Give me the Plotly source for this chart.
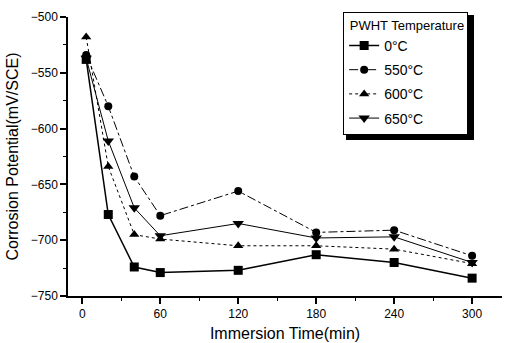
import plotly.graph_objects as go

times = [3, 20, 40, 60, 120, 180, 240, 300]
series_names = ["0°C", "550°C", "600°C", "650°C"]
v0 = [-538, -677, -724, -729, -727, -713, -720, -734]
v550 = [-534, -580, -643, -678, -656, -693, -691, -714]
v600 = [-518, -634, -695, -699, -705, -705, -708, -721]
v650 = [-537, -611, -671, -696, -685, -698, -697, -720]
x_ticks = [0, 60, 120, 180, 240, 300]
y_ticks = [-750, -700, -650, -600, -550, -500]

FONT = "Liberation Sans, Arial"

styles = [
    ("square", "solid", 9, 1.5),
    ("circle", "dashdot", 8, 1),
    ("triangle-up", "dot", 9, 1),
    ("triangle-down", "solid", 10, 1),
]
values = [v0, v550, v600, v650]

fig = go.Figure()
for name, vals, (sym, dash, size, lw) in zip(series_names, values, styles):
    fig.add_trace(go.Scatter(
        x=times, y=vals, name=name, mode="lines+markers", legendgroup=name,
        line=dict(color="black", width=lw, dash=dash),
        marker=dict(symbol=sym, size=size, color="black"),
    ))

# legend shadow
fig.add_shape(type="rect", xref="paper", yref="paper",
              x0=0.6406, x1=0.9355, y0=0.559, y1=1.007,
              fillcolor="black", line=dict(width=0), layer="below")

fig.update_layout(
    width=505, height=343,
    margin=dict(l=68, r=3, t=17, b=47),
    paper_bgcolor="white", plot_bgcolor="white",
    font=dict(family=FONT, color="black", size=12),
    showlegend=True,
    legend=dict(
        x=0.634, y=1.018, xanchor="left", yanchor="top",
        bgcolor="white", bordercolor="black", borderwidth=1,
        title=dict(text=" PWHT Temperature", font=dict(size=13, family=FONT)),
        font=dict(size=14, family=FONT),
        itemwidth=30,
        entrywidth=98,
        traceorder="grouped",
        tracegroupgap=3,
    ),
    xaxis=dict(
        range=[-11, 323], tickvals=x_ticks, ticks="outside", ticklen=6,
        tickwidth=1.5, tickcolor="black", showline=True, linecolor="black",
        linewidth=1.5, showgrid=False, zeroline=False,
        tickfont=dict(size=12, family=FONT),
        minor=dict(tickvals=[30, 90, 150, 210, 270], ticks="outside", ticklen=3, tickcolor="black", tickwidth=1),
        title=dict(text="Immersion Time(min)", font=dict(size=16, family=FONT), standoff=8),
    ),
    yaxis=dict(
        range=[-750, -500], tickvals=y_ticks, ticks="outside", ticklen=6,
        tickwidth=1.5, tickcolor="black", showline=True, linecolor="black",
        linewidth=1.5, showgrid=False, zeroline=False,
        tickfont=dict(size=12, family=FONT),
        minor=dict(tickvals=[-725, -675, -625, -575, -525], ticks="outside", ticklen=3, tickcolor="black", tickwidth=1),
        title=dict(text="Corrosion Potential(mV/SCE)", font=dict(size=16, family=FONT), standoff=8),
    ),
)

fig.write_html("out.html")
